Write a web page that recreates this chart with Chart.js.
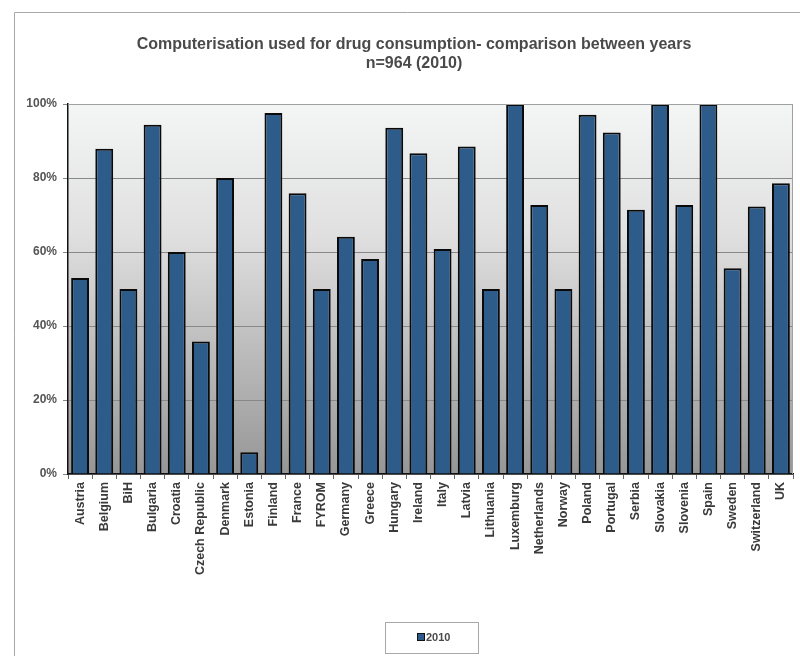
<!DOCTYPE html>
<html>
<head>
<meta charset="utf-8">
<script src="https://cdn.jsdelivr.net/npm/chart.js@4"></script>
<style>
html,body{margin:0;padding:0;background:#fff;}
#wrap{width:800px;height:656px;position:relative;}
</style>
</head>
<body>
<div id="wrap"><canvas id="c" width="800" height="656"></canvas></div>
<script>
const titleLines = ["Computerisation used for drug consumption- comparison between years", "n=964 (2010)"];
const categories = ["Austria","Belgium","BiH","Bulgaria","Croatia","Czech Republic","Denmark","Estonia","Finland","France","FYROM","Germany","Greece","Hungary","Ireland","Italy","Latvia","Lithuania","Luxemburg","Netherlands","Norway","Poland","Portugal","Serbia","Slovakia","Slovenia","Spain","Sweden","Switzerland","UK"];
const seriesName = "2010";
const values2010 = [53.0,87.9,50,94.4,60,35.8,80,5.9,97.6,75.9,50,64.1,58.1,93.6,86.7,60.8,88.5,50,100,72.7,50,97.1,92.3,71.4,100,72.7,100,55.6,72.3,78.6];
const yTicks = [0,20,40,60,80,100];

const FONT = "'Liberation Sans', Arial, sans-serif";

const decor = {
  id: 'decor',
  beforeDraw(chart) {
    const {ctx, chartArea: a} = chart;
    ctx.save();
    ctx.strokeStyle = '#a8a8a8';
    ctx.lineWidth = 1;
    ctx.beginPath();
    ctx.moveTo(14.5, 700); ctx.lineTo(14.5, 12.5); ctx.lineTo(820, 12.5);
    ctx.stroke();
    const g = ctx.createLinearGradient(0, a.top, 0, a.bottom);
    g.addColorStop(0, '#f4f5f5');
    g.addColorStop(0.35, '#e0e0e0');
    g.addColorStop(1, '#969696');
    ctx.fillStyle = g;
    ctx.fillRect(a.left, a.top, a.right - a.left, a.bottom - a.top);
    ctx.fillStyle = '#4a4a4a';
    ctx.font = "bold 16px " + FONT;
    ctx.textAlign = 'center';
    ctx.textBaseline = 'middle';
    ctx.fillText(titleLines[0], 414, 45);
    ctx.fillText(titleLines[1], 414, 64);
    ctx.restore();
  },
  afterDatasetsDraw(chart) {
    const {ctx, chartArea: a} = chart;
    ctx.save();
    ctx.strokeStyle = '#a0a0a0';
    ctx.lineWidth = 1;
    ctx.beginPath();
    ctx.moveTo(a.left, a.top + 0.5); ctx.lineTo(a.right - 0.5, a.top + 0.5); ctx.lineTo(a.right - 0.5, a.bottom);
    ctx.stroke();
    ctx.strokeStyle = '#a8a8a8';
    ctx.strokeRect(385.5, 622.5, 93, 31);
    ctx.fillStyle = '#2d5b8a';
    ctx.fillRect(418, 634, 6, 6);
    ctx.strokeStyle = '#111';
    ctx.lineWidth = 1;
    ctx.strokeRect(417.5, 633.5, 7, 7);
    ctx.fillStyle = '#4a4a4a';
    ctx.font = "bold 11px " + FONT;
    ctx.textAlign = 'left';
    ctx.textBaseline = 'middle';
    ctx.fillText(seriesName, 426, 637.5);
    ctx.restore();
  }
};

new Chart(document.getElementById('c'), {
  type: 'bar',
  data: {
    labels: categories,
    datasets: [{
      label: seriesName,
      data: values2010,
      backgroundColor: '#2d5b8a',
      borderColor: '#0a0a0a',
      borderWidth: 2,
      barPercentage: 0.74,
      categoryPercentage: 1.0
    }]
  },
  options: {
    responsive: false,
    animation: false,
    devicePixelRatio: 1,
    layout: { padding: { top: 104, right: 7, bottom: 0, left: 0 } },
    plugins: { legend: { display: false }, title: { display: false }, tooltip: { enabled: false } },
    scales: {
      x: {
        afterFit(s) { s.height = 182; },
        grid: { display: true, drawOnChartArea: false, offset: true, color: '#666', tickLength: 5 },
        border: { color: '#111', width: 1.5 },
        ticks: {
          minRotation: 90, maxRotation: 90, autoSkip: false,
          color: '#3a3a3a', padding: 3,
          font: { family: FONT, size: 12.5, weight: 'bold' }
        }
      },
      y: {
        min: 0, max: 100,
        afterFit(s) { s.width = 68; },
        afterBuildTicks(s) { s.ticks = yTicks.map(v => ({ value: v })); },
        grid: { color: '#888', lineWidth: 1, tickLength: 5 },
        border: { color: '#111', width: 1.5 },
        ticks: {
          color: '#555', padding: 6,
          font: { family: FONT, size: 12, weight: 'bold' },
          callback: v => v + '%'
        }
      }
    }
  },
  plugins: [decor]
});
</script>
</body>
</html>
